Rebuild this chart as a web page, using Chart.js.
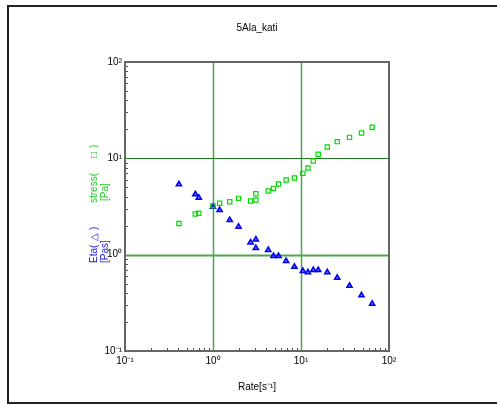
<!DOCTYPE html>
<html>
<head>
<meta charset="utf-8">
<script src="https://cdn.jsdelivr.net/npm/chart.js@4"></script>
<style>
  html, body { margin: 0; padding: 0; background: #fff; }
  #wrap { width: 497px; height: 405px; }
</style>
</head>
<body>
<div id="wrap"><canvas id="myChart"></canvas></div>
<script>
// shear rate [1/s]
const rate = [0.41, 0.63, 0.69, 1.0, 1.19, 1.55, 1.95, 2.67, 3.07, 3.07, 4.24, 4.87,
              5.55, 6.78, 8.42, 10.5, 12.0, 13.8, 15.7, 19.9, 25.8, 35.6, 48.7, 64.4];
// stress [Pa]
const stress = [2.11, 2.64, 2.69, 3.22, 3.41, 3.54, 3.84, 3.60, 4.29, 3.69, 4.57, 4.88,
                5.41, 5.95, 6.24, 6.98, 7.93, 9.37, 11.0, 13.1, 14.9, 16.5, 18.3, 21.0];
// viscosity [Pas]
const eta = [5.37, 4.23, 3.90, 3.14, 2.90, 2.29, 1.95, 1.34, 1.44, 1.17, 1.12, 0.967,
             0.967, 0.859, 0.748, 0.676, 0.655, 0.692, 0.692, 0.655, 0.575, 0.475, 0.378, 0.309];
const decades = [0.1, 1, 10, 100];
const decadeLabels = ['10\u207B\u00B9', '10\u2070', '10\u00B9', '10\u00B2'];

const ctx = document.getElementById('myChart').getContext('2d');
const FONT = '"Liberation Sans", Arial, sans-serif';

function toPts(xs, ys) {
    return xs.map((x, i) => ({ x: x, y: ys[i] }));
}

function onlyDecades(scale) {
    scale.ticks = decades.map(v => ({ value: v }));
}

function fmt(v) {
    const i = decades.indexOf(v);
    return i >= 0 ? decadeLabels[i] : '';
}

// frame, grid, minor ticks and the texts around the plot
const decor = {
    id: 'decor',
    beforeDatasetsDraw(chart) {
        const c = chart.ctx;
        const a = chart.chartArea;
        const xs = chart.scales.x, ys = chart.scales.y;
        c.save();
        // decade grid lines
        c.lineWidth = 1.5;
        c.strokeStyle = '#4aa64a';
        [1, 10].forEach(v => {
            const px = Math.round(xs.getPixelForValue(v)) + 0.5;
            c.beginPath(); c.moveTo(px, a.top); c.lineTo(px, a.bottom); c.stroke();
        });
        [[1, '#4aa64a', 2], [10, '#1f7a1f', 1]].forEach(g => {
            const py = Math.round(ys.getPixelForValue(g[0])) + 0.5;
            c.strokeStyle = g[1]; c.lineWidth = g[2];
            c.beginPath(); c.moveTo(a.left, py); c.lineTo(a.right, py); c.stroke();
        });
        // minor ticks, pointing inward
        c.strokeStyle = '#555';
        c.lineWidth = 1;
        for (let d = 0; d < 3; d++) {
            for (let m = 2; m <= 9; m++) {
                const v = decades[d] * m;
                const px = Math.round(xs.getPixelForValue(v)) + 0.5;
                c.beginPath(); c.moveTo(px, a.bottom); c.lineTo(px, a.bottom - 3); c.stroke();
                const py = Math.round(ys.getPixelForValue(v)) + 0.5;
                c.beginPath(); c.moveTo(a.left, py); c.lineTo(a.left + 3, py); c.stroke();
            }
        }
        // plot box
        c.strokeStyle = '#666';
        c.lineWidth = 2;
        c.strokeRect(a.left, a.top, a.right - a.left, a.bottom - a.top);
        // outer frame (left, top, bottom)
        c.strokeStyle = '#222';
        c.lineWidth = 2;
        c.beginPath();
        c.moveTo(497, 6); c.lineTo(8, 6); c.lineTo(8, 403); c.lineTo(497, 403);
        c.stroke();

        // title and x label
        c.fillStyle = '#000';
        c.font = '10px ' + FONT;
        c.textAlign = 'center';
        c.textBaseline = 'middle';
        c.fillText('5Ala_kati', 257, 28);
        c.fillText('Rate[s\u207B\u00B9]', 257, 387);

        // rotated y labels
        c.font = '10px ' + FONT;
        c.textAlign = 'left';
        function vtext(txt, x, y, col) {
            c.save();
            c.translate(x, y);
            c.rotate(-Math.PI / 2);
            c.fillStyle = col;
            c.fillText(txt, 0, 0);
            c.restore();
        }
        vtext('stress(', 94, 203, '#22cc22');
        vtext('\u25A1', 94, 158, '#22cc22');
        vtext(')', 94, 148, '#22cc22');
        vtext('[Pa]', 105, 201, '#22cc22');
        vtext('Eta(', 94, 263, '#2222dd');
        vtext('\u25B3', 94, 241, '#2222dd');
        vtext(')', 94, 230, '#2222dd');
        vtext('[Pas]', 105, 263, '#2222dd');
        c.restore();
    }
};

const chart = new Chart(ctx, {
    type: 'scatter',
    data: {
        datasets: [{
            label: 'stress',
            data: toPts(rate, stress),
            pointStyle: 'rect',
            pointRadius: 3,
            borderWidth: 1.2,
            borderColor: '#00dd00',
            backgroundColor: 'rgba(0,0,0,0)'
        }, {
            label: 'Eta',
            data: toPts(rate, eta),
            pointStyle: 'triangle',
            pointRadius: 3,
            borderWidth: 1.5,
            borderColor: '#0000ee',
            backgroundColor: 'rgba(60,60,255,0.7)'
        }]
    },
    plugins: [decor],
    options: {
        responsive: true,
        maintainAspectRatio: false,
        animation: false,
        layout: { padding: { left: 0, top: 62, right: 108, bottom: 34 } },
        plugins: {
            legend: { display: false },
            title: { display: false },
            tooltip: { enabled: false }
        },
        scales: {
            x: {
                type: 'logarithmic',
                min: 0.1, max: 100,
                afterBuildTicks: onlyDecades,
                afterFit: s => { s.height = 20; },
                grid: { display: false, drawTicks: false },
                border: { display: false },
                ticks: {
                    callback: fmt, autoSkip: false, maxRotation: 0,
                    padding: 4, color: '#000', font: { size: 10, family: FONT }
                }
            },
            y: {
                type: 'logarithmic',
                min: 0.1, max: 100,
                afterBuildTicks: onlyDecades,
                afterFit: s => { s.width = 125; },
                grid: { display: false, drawTicks: false },
                border: { display: false },
                ticks: {
                    callback: fmt, autoSkip: false,
                    padding: 3, color: '#000', font: { size: 10, family: FONT }
                }
            }
        }
    }
});
</script>
</body>
</html>
